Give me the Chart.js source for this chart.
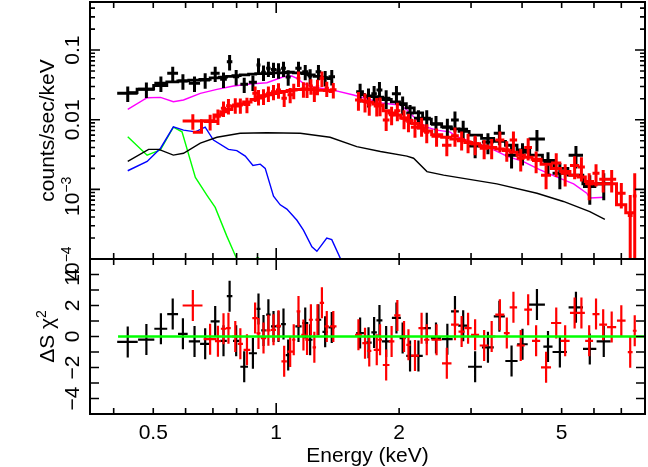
<!DOCTYPE html>
<html>
<head>
<meta charset="utf-8">
<script src="https://cdn.jsdelivr.net/npm/chart.js@4.4.1/dist/chart.umd.min.js"></script>
<style>
  html, body { margin: 0; padding: 0; background: #fff; }
  #wrap { position: relative; width: 648px; height: 467px; }
  canvas { position: absolute; left: 0; top: 0; }
</style>
</head>
<body>
<div id="wrap">
  <canvas id="spec" width="648" height="467"></canvas>
  <canvas id="resid" width="648" height="467"></canvas>
</div>
<script>
// ---- black spectrum (energy keV, half bin width, counts/s/keV, error, model, residual)
const blkE = [0.433,0.481,0.522,0.558,0.591,0.631,0.670,0.709,0.743,0.769,0.798,0.835,0.877,0.905,0.931,0.957,0.985,1.013,1.042,1.070,1.134,1.178,1.211,1.269,1.318,1.368,
  1.605,1.683,1.737,1.790,1.859,1.970,2.040,2.127,2.230,2.337,2.462,2.625,2.740,2.870,3.070,3.300,3.520,3.770,4.010,4.350,4.630,4.950,5.420,5.860,6.340];
const blkDE = [0.025,0.022,0.019,0.017,0.016,0.020,0.019,0.018,0.014,0.012,0.014,0.018,0.020,0.010,0.012,0.012,0.014,0.013,0.014,0.015,0.020,0.020,0.016,0.020,0.020,0.025,
  0.035,0.030,0.027,0.030,0.045,0.050,0.035,0.045,0.055,0.055,0.070,0.080,0.060,0.080,0.120,0.110,0.110,0.130,0.120,0.200,0.120,0.200,0.220,0.220,0.250];
const blkV = [0.0239,0.0273,0.0333,0.0463,0.0359,0.0333,0.0372,0.0463,0.038,0.068,0.0414,0.0322,0.0344,0.061,0.048,0.0546,0.0528,0.0516,0.0546,0.041,0.0546,0.049,0.0424,0.049,0.040,0.0414,
  0.0253,0.0215,0.0235,0.0267,0.0203,0.0235,0.0165,0.0125,0.0105,0.0105,0.0086,0.0078,0.0099,0.0073,0.0042,0.0048,0.0064,0.0031,0.0034,0.0053,0.0025,0.0017,0.0031,0.0011,0.0012];
const blkDV = [0.006,0.0068,0.0083,0.0115,0.009,0.0083,0.0093,0.0115,0.0095,0.017,0.0104,0.008,0.0086,0.015,0.012,0.0136,0.0132,0.013,0.0136,0.0102,0.0136,0.0122,0.0106,0.0122,0.01,0.0104,
  0.0076,0.0065,0.007,0.008,0.0061,0.007,0.005,0.0038,0.0032,0.0032,0.0027,0.0025,0.0032,0.0024,0.0014,0.0016,0.0021,0.0011,0.0012,0.0018,0.0009,0.0007,0.0011,0.0005,0.0005];
const blkModel = [0.0245,0.0275,0.031,0.035,0.036,0.037,0.038,0.040,0.041,0.042,0.043,0.044,0.045,0.046,0.046,0.046,0.047,0.047,0.047,0.048,0.047,0.046,0.044,0.042,0.040,0.039,
  0.023,0.022,0.0215,0.021,0.0195,0.018,0.017,0.0148,0.0125,0.0102,0.0088,0.0079,0.0074,0.0068,0.006,0.0054,0.0049,0.0043,0.0037,0.0031,0.0026,0.002,0.0016,0.0012,0.0012];
const blkRes = [-0.35,-0.2,0.5,1.45,0.17,-0.32,-0.47,0.97,-0.28,2.6,-0.28,-1.95,-1.08,1.78,0.39,1.41,0.65,0.65,0.8,-1.2,0.65,0.87,-0.21,1.08,0.3,0.58,
  0.22,-0.4,0.26,1.04,-0.32,1.2,-0.1,-1.25,-1.25,0.54,-0.1,-0.17,1.62,0.7,-1.95,-0.7,1.3,-1.58,-0.5,2.06,-0.65,-1.0,1.88,-0.8,-0.32];

// ---- red spectrum
const redE = [0.625,0.689,0.720,0.743,0.764,0.794,0.817,0.848,0.888,0.905,0.931,0.957,0.985,1.013,1.046,1.082,1.104,1.134,1.166,1.190,1.216,1.240,1.262,1.294,1.330,1.380,
  1.590,1.650,1.690,1.763,1.796,1.859,1.917,1.980,2.056,2.108,2.187,2.270,2.337,2.470,2.617,2.740,2.845,2.950,3.070,3.230,3.370,3.530,3.670,3.810,3.970,4.140,4.330,4.580,4.850,5.100,5.380,5.590,5.840,6.070,6.320,6.630,7.000,7.360,7.550];
const redDE = [0.035,0.025,0.012,0.011,0.010,0.014,0.012,0.016,0.014,0.010,0.014,0.012,0.014,0.014,0.016,0.016,0.010,0.012,0.014,0.012,0.014,0.012,0.012,0.016,0.016,0.025,
  0.030,0.025,0.020,0.030,0.020,0.035,0.030,0.035,0.040,0.025,0.050,0.040,0.035,0.070,0.070,0.060,0.050,0.060,0.070,0.080,0.070,0.090,0.060,0.080,0.090,0.090,0.100,0.130,0.140,0.130,0.140,0.110,0.130,0.120,0.140,0.170,0.170,0.100,0.080];
const redV = [0.0096,0.0094,0.0112,0.0146,0.0159,0.0163,0.0162,0.0165,0.0239,0.0214,0.0218,0.0239,0.0253,0.0267,0.0203,0.0229,0.0262,0.0393,0.0275,0.0273,0.0305,0.0239,0.030,0.0393,0.0282,0.027,
  0.0192,0.0182,0.0163,0.0158,0.016,0.0099,0.0118,0.0135,0.0105,0.0094,0.0078,0.0082,0.0066,0.0058,0.0043,0.0059,0.0052,0.0048,0.0045,0.0039,0.004,0.0051,0.0037,0.0051,0.0028,0.004,0.0026,0.0016,0.0024,0.0017,0.0022,0.0021,0.0012,0.0017,0.0014,0.0014,0.00088,0.00042,0.0008];
const redDV = [0.0024,0.0024,0.0028,0.0037,0.004,0.0041,0.004,0.0041,0.006,0.0054,0.0055,0.006,0.0063,0.0067,0.0051,0.0057,0.0066,0.0098,0.0069,0.0068,0.0076,0.006,0.0075,0.0098,0.007,0.0068,
  0.0058,0.0055,0.0049,0.0047,0.0048,0.003,0.0035,0.004,0.0032,0.0028,0.0023,0.0025,0.002,0.0017,0.0013,0.0018,0.0016,0.0015,0.0014,0.0012,0.0013,0.0017,0.0012,0.0017,0.001,0.0014,0.0009,0.0006,0.0009,0.0006,0.0008,0.0008,0.0005,0.0006,0.0005,0.0005,0.00035,0.00041,0.0009];
const redModel = [0.0066,0.0097,0.0117,0.013,0.014,0.0158,0.0168,0.018,0.0195,0.0205,0.022,0.0228,0.0238,0.0245,0.0255,0.0262,0.0268,0.0272,0.0273,0.0273,0.0272,0.027,0.0268,0.0265,0.0262,0.0255,
  0.019,0.0185,0.0178,0.0168,0.0162,0.0135,0.0125,0.0117,0.0106,0.0098,0.0088,0.0076,0.0069,0.0061,0.0056,0.0053,0.005,0.0047,0.0045,0.0042,0.004,0.0038,0.0036,0.0034,0.0031,0.0029,0.0027,0.0023,0.002,0.0018,0.0016,0.0015,0.0013,0.0012,0.0012,0.0012,0.0006,0.00046,0.00046];
const redRes = [2.0,-0.17,-0.3,0.5,0.54,0.0,-0.47,-0.86,1.19,0.2,-0.1,0.4,0.43,0.69,-1.6,-0.97,-0.21,1.62,0.1,-0.2,1.08,-0.7,1.08,2.17,0.65,0.65,
  0.11,-0.43,-0.93,-0.86,-0.21,-1.84,-0.32,1.36,0.0,-0.54,-1.23,0.54,-0.21,-0.21,-1.73,0.76,0.32,0.54,0.11,-0.58,0.0,1.41,0.22,1.88,-0.58,1.73,-0.28,-1.99,0.87,-0.28,1.52,1.52,-0.28,1.45,0.76,0.61,1.02,-1.01,0.37];

// ---- model components
const magE = [0.433,0.483,0.521,0.56,0.593,0.652,0.716,0.786,0.864,0.949,1.042,1.092,1.124,1.166,1.234,1.355,1.546,1.83,2.01,2.09,2.21,2.337,2.47,2.66,2.77,3.34,3.67,4.03,4.43,4.87,5.35,5.76,5.86,6.38];
const magV = [0.0141,0.0207,0.0209,0.0181,0.0192,0.0239,0.0273,0.0305,0.0326,0.034,0.0414,0.0424,0.0393,0.0333,0.0292,0.0273,0.0226,0.0172,0.0163,0.0138,0.0099,0.0078,0.0071,0.0067,0.0057,0.0039,0.003,0.0025,0.0019,0.0015,0.0012,0.00088,0.00075,0.00077];
const contE = [0.433,0.487,0.516,0.56,0.593,0.652,0.716,0.816,0.949,1.145,1.355,1.575,1.8,2.09,2.17,2.34,2.57,3.47,4.35,5.05,5.86,6.38];
const contV = [0.00252,0.00375,0.00375,0.0031,0.0033,0.0046,0.0056,0.0064,0.0065,0.0064,0.0056,0.0041,0.0035,0.003,0.0028,0.0018,0.0016,0.0012,0.00088,0.00067,0.00048,0.00037];
const blueE = [0.433,0.483,0.521,0.56,0.593,0.634,0.67,0.702,0.764,0.801,0.84,0.877,0.914,0.94,0.985,1.023,1.062,1.124,1.166,1.223,1.258,1.33,1.368,1.45];
const blueV = [0.00185,0.00252,0.0039,0.0079,0.0071,0.0067,0.0078,0.0051,0.00375,0.0036,0.003,0.0022,0.0023,0.002,0.0008,0.0006,0.00052,0.00036,0.00026,0.00015,0.000129,0.0002,0.00019,0.00009];
const greenE = [0.433,0.483,0.521,0.56,0.588,0.634,0.677,0.709,0.757,0.798,0.82,0.88,0.9,0.93];
const greenV = [0.0057,0.0031,0.0037,0.0078,0.0067,0.00148,0.00082,0.00055,0.000213,0.000105,0.00008,0.00009,0.000106,0.00009];
const zeroE = [0.41, 8.0];
const zeroV = [0, 0];

// ---- axes / ticks
const xMinorTicks = [0.4,0.5,0.6,0.7,0.8,0.9,2,3,4,5,6,7];
const xMajorTicks = [1];
const xLabelVals = [0.5, 1, 2, 5];
const xLabelText = ['0.5', '1', '2', '5'];
const yTopMajor = [1e-4, 1e-3, 1e-2, 1e-1];
const yTopMinor = [2e-4,3e-4,4e-4,5e-4,6e-4,7e-4,8e-4,9e-4,2e-3,3e-3,4e-3,5e-3,6e-3,7e-3,8e-3,9e-3,0.02,0.03,0.04,0.05,0.06,0.07,0.08,0.09,0.2,0.3,0.4];
const yTopLabelVals = [0.1, 0.01, 1e-3, 1e-4];
const yTopLabelBase = ['0.1', '0.01', '10', '10'];
const yTopLabelSup = ['', '', '\u22123', '\u22124'];
const yResTicks = [-4,-3,-2,-1,0,1,2,3,4];
const yResLabelVals = [4, 2, 0, -2, -4];
const yResLabelText = ['4', '2', '0', '\u22122', '\u22124'];
const gapKeV = 1.48; // no data between the two energy bands

const FONT = '"Liberation Sans", Arial, Helvetica, sans-serif';
const FS = 21;

function pts(xs, ys) {
  return xs.map((x, i) => ({ x: x, y: ys[i] }));
}
// model as histogram steps, broken over the data gap
function stepPts(xs, ys) {
  const out = [];
  xs.forEach((x, i) => {
    if (i > 0 && xs[i - 1] < gapKeV && x > gapKeV) out.push({ x: gapKeV, y: null });
    out.push({ x: x, y: ys[i] });
  });
  return out;
}

function richWidth(ctx, parts) {
  let w = 0;
  parts.forEach(p => { ctx.font = p.size + 'px ' + FONT; w += ctx.measureText(p.t).width; });
  return w;
}
function drawRich(ctx, parts, x, y, rotated, shift) {
  ctx.save();
  ctx.translate(x, y);
  if (rotated) ctx.rotate(-Math.PI / 2);
  let cx = -richWidth(ctx, parts) / 2 + (shift || 0);
  ctx.textBaseline = 'alphabetic';
  ctx.textAlign = 'left';
  parts.forEach(p => {
    ctx.font = p.size + 'px ' + FONT;
    ctx.fillText(p.t, cx, -(p.rise || 0));
    cx += ctx.measureText(p.t).width;
  });
  ctx.restore();
}

// error-bar crosses drawn right after each dataset, via the chart scales
const crossPlugin = {
  id: 'crosses',
  afterDatasetDraw(chart, args) {
    const ds = chart.data.datasets[args.index];
    if (!ds.cross) return;
    const { ctx, chartArea: a } = chart;
    const xs = chart.scales.x, ys = chart.scales.y;
    const isLog = ys.type === 'logarithmic';
    ctx.save();
    ctx.beginPath();
    ctx.rect(a.left, a.top, a.right - a.left, a.bottom - a.top);
    ctx.clip();
    ctx.strokeStyle = ds.borderColor;
    ctx.lineWidth = ds.cross.width;
    ctx.beginPath();
    ds.data.forEach((p, i) => {
      const yc = ys.getPixelForValue(p.y);
      const xc = xs.getPixelForValue(p.x);
      ctx.moveTo(xs.getPixelForValue(p.x - ds.cross.dx[i]), yc);
      ctx.lineTo(xs.getPixelForValue(p.x + ds.cross.dx[i]), yc);
      const lo = p.y - ds.cross.dy[i];
      const y0 = (isLog && lo <= 0) ? a.bottom + 5 : ys.getPixelForValue(lo);
      ctx.moveTo(xc, y0);
      ctx.lineTo(xc, ys.getPixelForValue(p.y + ds.cross.dy[i]));
    });
    ctx.stroke();
    ctx.restore();
  }
};

// frame, inward ticks and labels
const axesPlugin = {
  id: 'pgAxes',
  afterDraw(chart, args, o) {
    const { ctx, chartArea: a } = chart;
    const xs = chart.scales.x, ys = chart.scales.y;
    ctx.save();
    ctx.strokeStyle = '#000';
    ctx.fillStyle = '#000';
    ctx.lineWidth = 1.6;
    ctx.beginPath();
    const xt = (vals, len) => vals.forEach(v => {
      const px = xs.getPixelForValue(v);
      ctx.moveTo(px, a.bottom); ctx.lineTo(px, a.bottom - len);
      ctx.moveTo(px, a.top); ctx.lineTo(px, a.top + len);
    });
    const yt = (vals, len) => vals.forEach(v => {
      const py = ys.getPixelForValue(v);
      ctx.moveTo(a.left, py); ctx.lineTo(a.left + len, py);
      ctx.moveTo(a.right, py); ctx.lineTo(a.right - len, py);
    });
    xt(xMinorTicks, 6);
    xt(xMajorTicks, 11);
    o.yTicks.forEach(t => yt(t.vals, t.len));
    ctx.stroke();
    ctx.lineWidth = 2;
    ctx.strokeRect(a.left, a.top, a.right - a.left, a.bottom - a.top);

    // y tick labels, rotated
    o.yLabels.forEach(l => {
      const parts = [{ t: l.base, size: FS }];
      if (l.sup) parts.push({ t: l.sup, size: 14, rise: 8 });
      drawRich(ctx, parts, 78.5, ys.getPixelForValue(l.v), true, l.sup ? -7 : 0);
    });
    drawRich(ctx, o.yTitle, 53.5, (a.top + a.bottom) / 2, true, 0);

    if (o.xLabels) {
      xLabelVals.forEach((v, i) => {
        drawRich(ctx, [{ t: xLabelText[i], size: FS }], xs.getPixelForValue(v), 439, false, 0);
      });
      drawRich(ctx, [{ t: 'Energy (keV)', size: FS }], (a.left + a.right) / 2, 461.5, false, 0);
    }
    ctx.restore();
  }
};

const baseScales = (yType, yMin, yMax) => ({
  x: { type: 'logarithmic', min: 0.35, max: 8.0, display: false },
  y: { type: yType, min: yMin, max: yMax, display: false }
});
const baseOpts = {
  responsive: false,
  animation: false,
  devicePixelRatio: 1,
  events: []
};

new Chart(document.getElementById('spec'), {
  type: 'scatter',
  data: {
    datasets: [
      { label: 'red data', data: pts(redE, redV), borderColor: '#ff0000', pointRadius: 0, showLine: false,
        cross: { dx: redDE, dy: redDV, width: 3 } },
      { label: 'red model', data: stepPts(redE, redModel), borderColor: '#ff0000', borderWidth: 3,
        pointRadius: 0, showLine: true, stepped: 'middle', spanGaps: false },
      { label: 'black data', data: pts(blkE, blkV), borderColor: '#000000', pointRadius: 0, showLine: false,
        cross: { dx: blkDE, dy: blkDV, width: 3 } },
      { label: 'black model', data: stepPts(blkE, blkModel), borderColor: '#000000', borderWidth: 2.8,
        pointRadius: 0, showLine: true, stepped: 'middle', spanGaps: false },
      { label: 'magenta', data: pts(magE, magV), borderColor: '#ff00ff', borderWidth: 1.4, pointRadius: 0, showLine: true, tension: 0 },
      { label: 'continuum', data: pts(contE, contV), borderColor: '#000000', borderWidth: 1.4, pointRadius: 0, showLine: true, tension: 0 },
      { label: 'blue', data: pts(blueE, blueV), borderColor: '#0000ff', borderWidth: 1.4, pointRadius: 0, showLine: true, tension: 0 },
      { label: 'green', data: pts(greenE, greenV), borderColor: '#00ff00', borderWidth: 1.4, pointRadius: 0, showLine: true, tension: 0 }
    ]
  },
  options: Object.assign({}, baseOpts, {
    layout: { padding: { left: 90, right: 3, top: 2, bottom: 208 } },
    scales: baseScales('logarithmic', 1e-4, 0.49),
    plugins: {
      legend: { display: false },
      tooltip: { enabled: false },
      pgAxes: {
        yTicks: [{ vals: yTopMajor, len: 10 }, { vals: yTopMinor, len: 5 }],
        yLabels: yTopLabelVals.map((v, i) => ({ v: v, base: yTopLabelBase[i], sup: yTopLabelSup[i] })),
        yTitle: [{ t: 'counts/sec/keV', size: FS }],
        xLabels: false
      }
    }
  }),
  plugins: [crossPlugin, axesPlugin]
});

new Chart(document.getElementById('resid'), {
  type: 'scatter',
  data: {
    datasets: [
      { label: 'zero', data: pts(zeroE, zeroV), borderColor: '#00ff00', borderWidth: 2.5, pointRadius: 0, showLine: true },
      { label: 'red resid', data: pts(redE, redRes), borderColor: '#ff0000', pointRadius: 0, showLine: false,
        cross: { dx: redDE, dy: redRes.map(() => 1), width: 2.2 } },
      { label: 'black resid', data: pts(blkE, blkRes), borderColor: '#000000', pointRadius: 0, showLine: false,
        cross: { dx: blkDE, dy: blkRes.map(() => 1), width: 2.2 } }
    ]
  },
  options: Object.assign({}, baseOpts, {
    layout: { padding: { left: 90, right: 3, top: 259, bottom: 53 } },
    scales: baseScales('linear', -5, 5),
    plugins: {
      legend: { display: false },
      tooltip: { enabled: false },
      pgAxes: {
        yTicks: [{ vals: yResTicks, len: 9 }],
        yLabels: yResLabelVals.map((v, i) => ({ v: v, base: yResLabelText[i], sup: '' })),
        yTitle: [{ t: '\u0394S \u03c7', size: FS }, { t: '2', size: 14, rise: 8 }],
        xLabels: true
      }
    }
  }),
  plugins: [crossPlugin, axesPlugin]
});
</script>
</body>
</html>
